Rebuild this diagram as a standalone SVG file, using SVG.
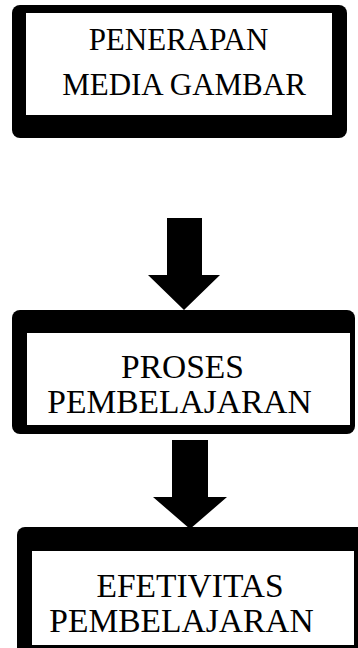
<svg xmlns="http://www.w3.org/2000/svg" width="358" height="648" viewBox="0 0 358 648">
<style>
.outer{fill:#000}
.inner{fill:#fff}
.t{font-family:"Liberation Serif","Times New Roman",serif;fill:#000;text-anchor:middle}
.arrow{fill:#000}
</style>
<rect width="358" height="648" fill="#fff"/>
<g id="node-penerapan">
<rect class="outer" x="12" y="5" width="335" height="133" rx="8"/>
<rect class="inner" x="26" y="13" width="306" height="102"/>
<text class="t" x="178.5" y="50" font-size="31">PENERAPAN</text>
<text class="t" x="184" y="95" font-size="31">MEDIA GAMBAR</text>
</g>
<g id="node-proses">
<rect class="outer" x="12" y="310" width="343" height="124" rx="8"/>
<rect class="inner" x="27" y="333" width="323" height="92"/>
<text class="t" x="182.5" y="378" font-size="33.5">PROSES</text>
<text class="t" x="179.5" y="413" font-size="33.5">PEMBELAJARAN</text>
</g>
<g id="node-efetivitas">
<rect class="outer" x="17" y="527" width="350" height="130" rx="8"/>
<rect class="inner" x="32" y="551" width="322" height="94"/>
<text class="t" x="190" y="597" font-size="33.5">EFETIVITAS</text>
<text class="t" x="181.5" y="632" font-size="33.5">PEMBELAJARAN</text>
</g>
<g id="connectors">
<polygon class="arrow" points="167,218 202,218 202,275 220,275 184,310 148,275 167,275"/>
<polygon class="arrow" points="172,440 208,440 208,497 227,497 190,529 153,497 172,497"/>
</g>
</svg>
